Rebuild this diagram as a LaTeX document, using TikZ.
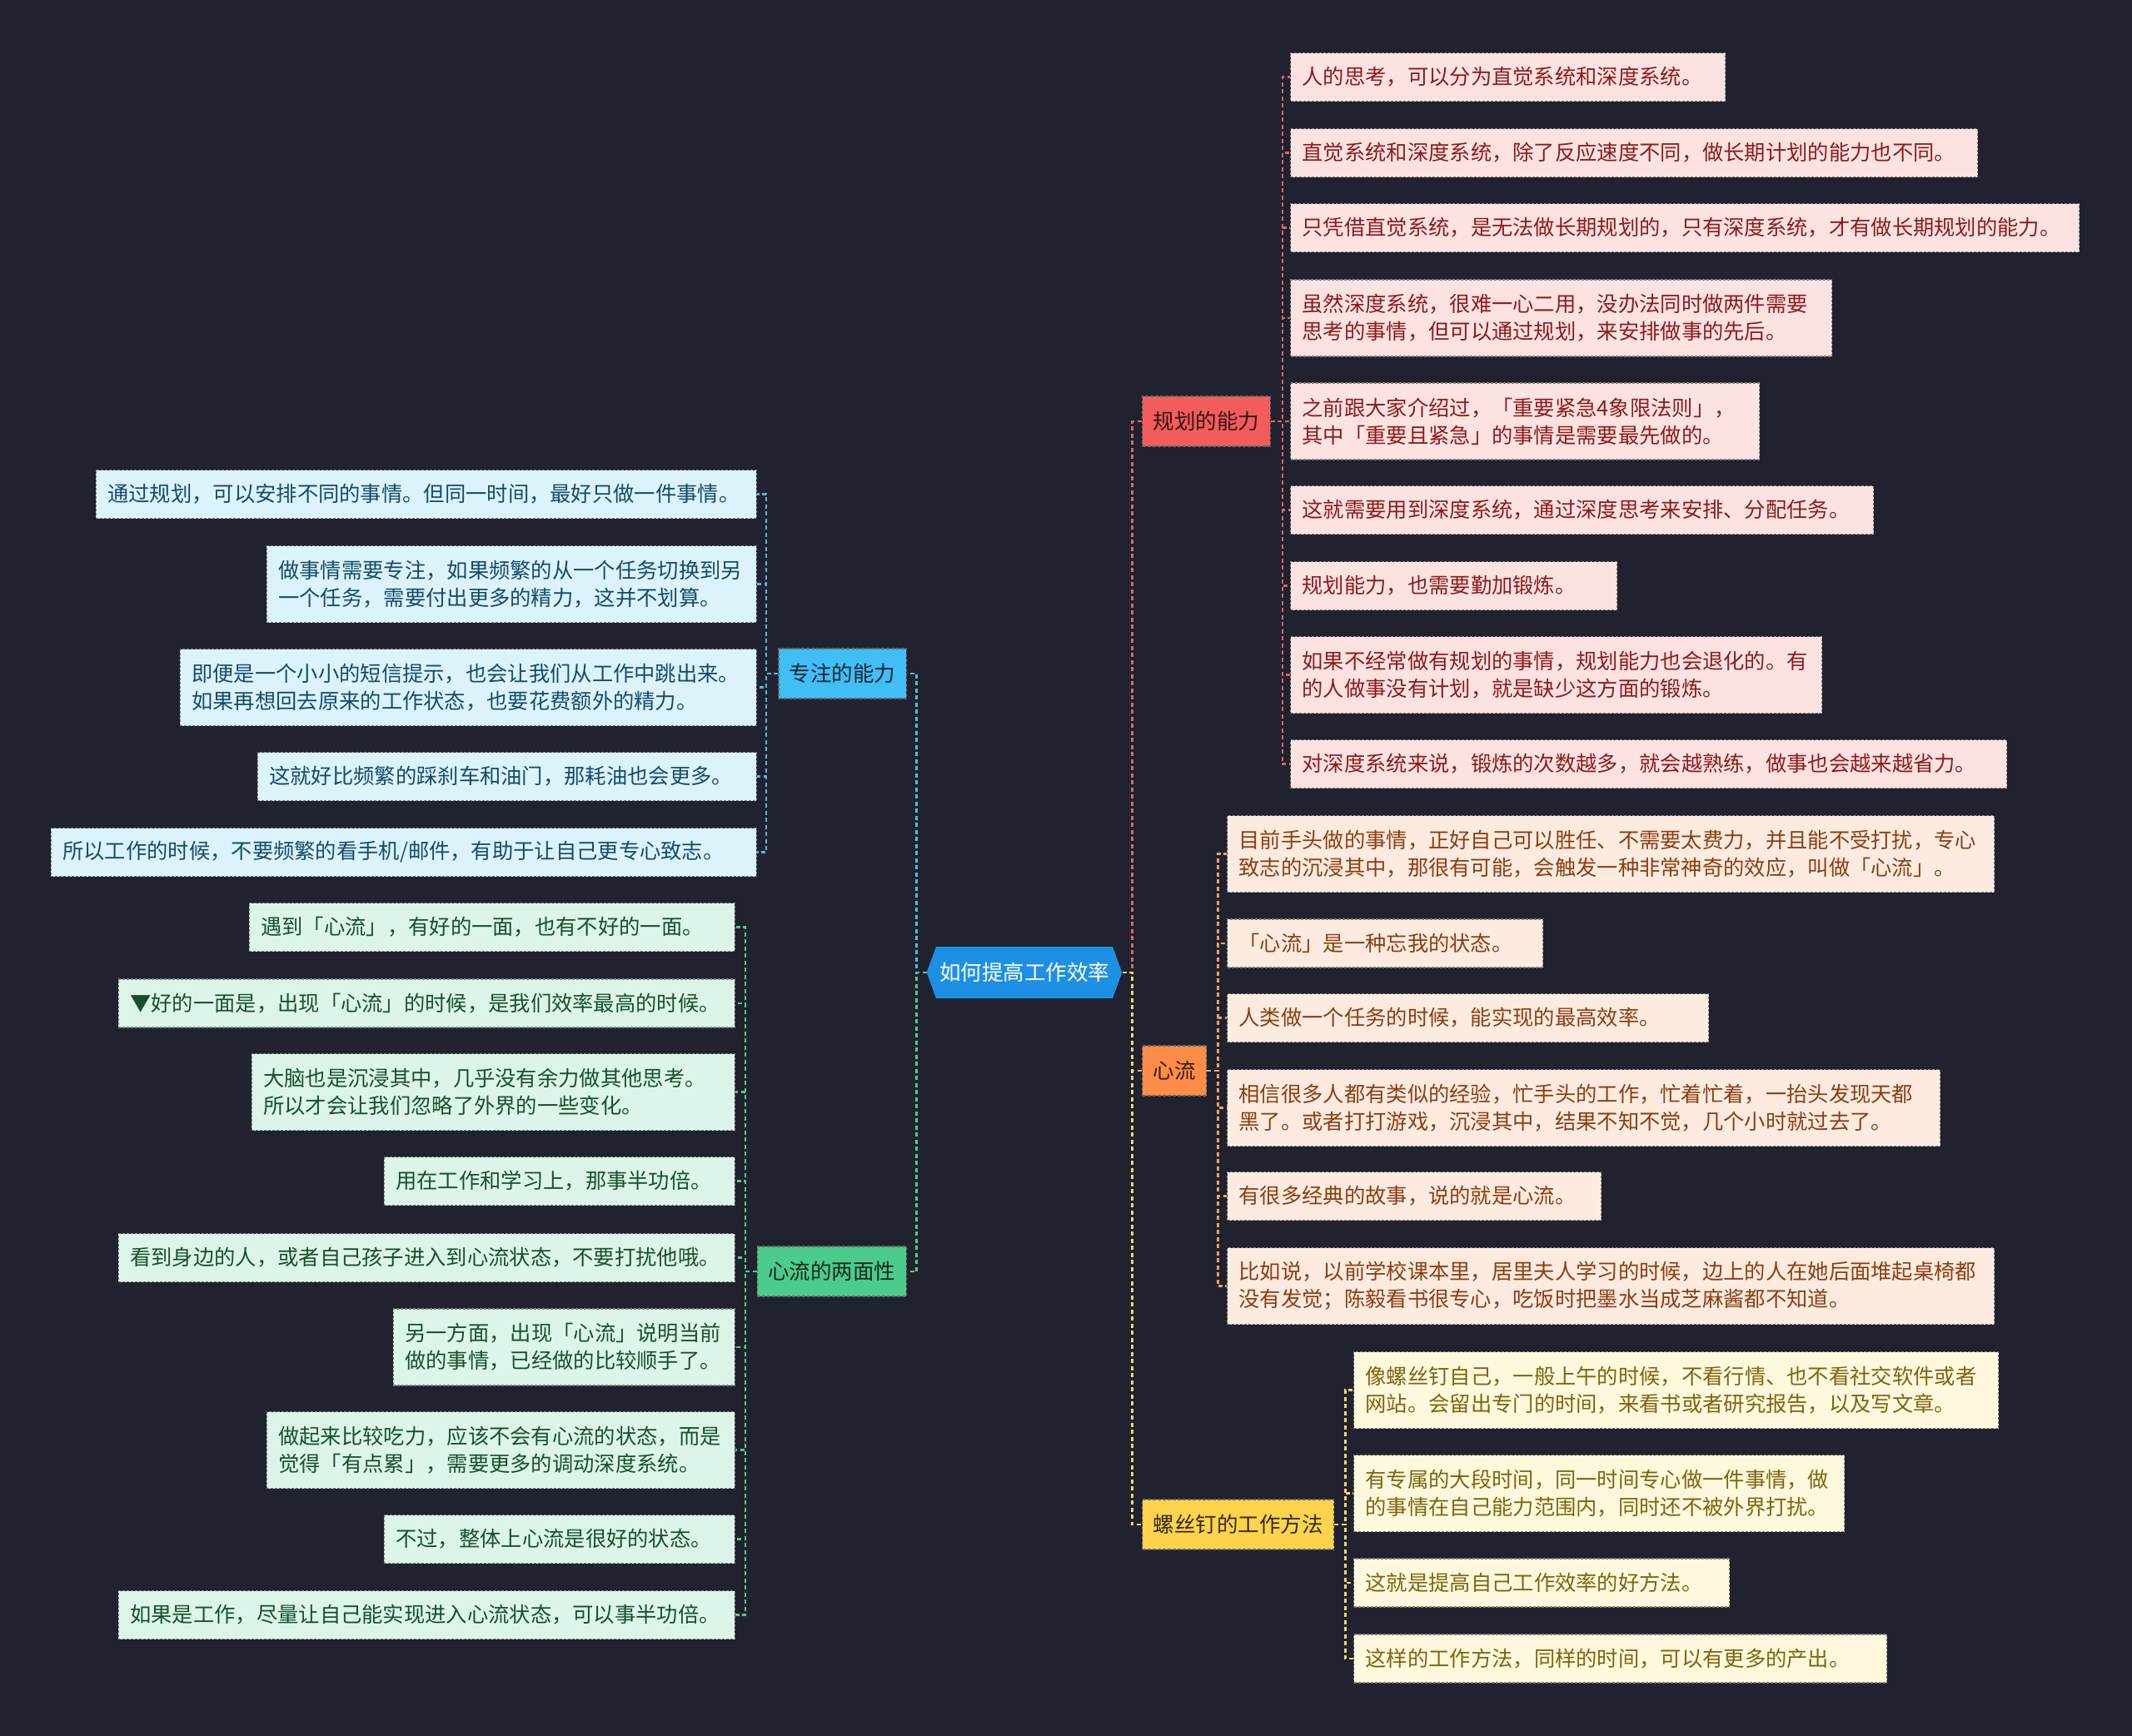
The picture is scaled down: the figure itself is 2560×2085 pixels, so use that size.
\documentclass[tikz,border=0pt]{standalone}
\usepackage{fontspec}
\setmainfont{Noto Sans CJK SC}
\usetikzlibrary{shapes.symbols}
\definecolor{bg}{HTML}{20232F}
\definecolor{rootc}{HTML}{1E90E4}
\definecolor{ghc}{HTML}{F25C5C}
\definecolor{xlc}{HTML}{FF8C48}
\definecolor{lsc}{HTML}{FFD34C}
\definecolor{zzc}{HTML}{40BEF5}
\definecolor{lmc}{HTML}{4BCB8C}
\definecolor{ghl}{HTML}{E06464}
\definecolor{xll}{HTML}{F0A062}
\definecolor{lsl}{HTML}{F2D466}
\definecolor{zzl}{HTML}{52B8E6}
\definecolor{lml}{HTML}{52C88E}
\definecolor{ghf}{HTML}{FDE2E2}
\definecolor{ght}{HTML}{8C1C1C}
\definecolor{xlf}{HTML}{FDEBDF}
\definecolor{xlt}{HTML}{8B3E13}
\definecolor{lsf}{HTML}{FEF8DC}
\definecolor{lst}{HTML}{7D6512}
\definecolor{zzf}{HTML}{DDF3FC}
\definecolor{zzt}{HTML}{134C6B}
\definecolor{lmf}{HTML}{DDF5E8}
\definecolor{lmt}{HTML}{17502F}
\begin{document}
\begin{tikzpicture}[x=1pt,y=-1pt,
  leafbase/.style={font=\fontsize{25.3}{33}\selectfont, inner xsep=14pt, inner ysep=0pt,
    minimum height=58pt, align=left, draw=black!50, dash pattern=on 3pt off 2pt, line width=1.3pt},
  two/.style={minimum height=92pt},
  tw/.style={text width=#1pt},
  branch/.style={font=\fontsize{25.5}{30}\selectfont, inner xsep=13pt, inner ysep=0pt,
    minimum height=60pt, draw=black!60, dash pattern=on 4pt off 2pt, line width=1.4pt},
  conn/.style={line width=2.2pt, dash pattern=on 5pt off 3.5pt},
  ghleaf/.style={leafbase, fill=ghf, text=ght, anchor=west},
  xlleaf/.style={leafbase, fill=xlf, text=xlt, anchor=west},
  lsleaf/.style={leafbase, fill=lsf, text=lst, anchor=west},
  zzleaf/.style={leafbase, fill=zzf, text=zzt, anchor=east},
  lmleaf/.style={leafbase, fill=lmf, text=lmt, anchor=east}]
\fill[bg] (0,0) rectangle (2560,2085);
\useasboundingbox (0,0) rectangle (2560,2085);

% root
\node[signal, signal to=east and west, signal pointer angle=140, fill=rootc, text=white,
  minimum height=62pt, minimum width=230pt, inner xsep=4pt, inner ysep=0pt,
  font=\fontsize{25.5}{30}\selectfont] (root) at (1230,1168) {如何提高工作效率};

% branches
\node[branch, fill=ghc, text=black!80!ghc, anchor=west] (gh) at (1371,506) {规划的能力};
\node[branch, fill=xlc, text=black!80!xlc, anchor=west] (xl) at (1371,1286) {心流};
\node[branch, fill=lsc, text=black!80!lsc, anchor=west] (ls) at (1371,1831) {螺丝钉的工作方法};
\node[branch, fill=zzc, text=black!80!zzc, anchor=east] (zz) at (1089,809) {专注的能力};
\node[branch, fill=lmc, text=black!80!lmc, anchor=east] (lm) at (1089,1527) {心流的两面性};

% 规划的能力 leaves
\node[ghleaf,tw=494] (gh1) at (1549,92.5) {人的思考，可以分为直觉系统和深度系统。};
\node[ghleaf,tw=797] (gh2) at (1549,183.5) {直觉系统和深度系统，除了反应速度不同，做长期计划的能力也不同。};
\node[ghleaf,tw=919] (gh3) at (1549,273.5) {只凭借直觉系统，是无法做长期规划的，只有深度系统，才有做长期规划的能力。};
\node[ghleaf,two,tw=622] (gh4) at (1549,382) {虽然深度系统，很难一心二用，没办法同时做两件需要\\思考的事情，但可以通过规划，来安排做事的先后。};
\node[ghleaf,two,tw=535] (gh5) at (1549,506) {之前跟大家介绍过，「重要紧急4象限法则」，\\其中「重要且紧急」的事情是需要最先做的。};
\node[ghleaf,tw=672] (gh6) at (1549,612.5) {这就需要用到深度系统，通过深度思考来安排、分配任务。};
\node[ghleaf,tw=364] (gh7) at (1549,703.5) {规划能力，也需要勤加锻炼。};
\node[ghleaf,two,tw=610] (gh8) at (1549,810.5) {如果不经常做有规划的事情，规划能力也会退化的。有\\的人做事没有计划，就是缺少这方面的锻炼。};
\node[ghleaf,tw=832] (gh9) at (1549,917.5) {对深度系统来说，锻炼的次数越多，就会越熟练，做事也会越来越省力。};

% 心流 leaves
\node[xlleaf,two,tw=893] (xl1) at (1473,1025.5) {目前手头做的事情，正好自己可以胜任、不需要太费力，并且能不受打扰，专心\\致志的沉浸其中，那很有可能，会触发一种非常神奇的效应，叫做「心流」。};
\node[xlleaf,tw=351] (xl2) at (1473,1133) {「心流」是一种忘我的状态。};
\node[xlleaf,tw=550] (xl3) at (1473,1222.5) {人类做一个任务的时候，能实现的最高效率。};
\node[xlleaf,two,tw=828] (xl4) at (1473,1330.5) {相信很多人都有类似的经验，忙手头的工作，忙着忙着，一抬头发现天都\\黑了。或者打打游戏，沉浸其中，结果不知不觉，几个小时就过去了。};
\node[xlleaf,tw=421] (xl5) at (1473,1436.5) {有很多经典的故事，说的就是心流。};
\node[xlleaf,two,tw=893] (xl6) at (1473,1544.5) {比如说，以前学校课本里，居里夫人学习的时候，边上的人在她后面堆起桌椅都\\没有发觉；陈毅看书很专心，吃饭时把墨水当成芝麻酱都不知道。};

% 螺丝钉 leaves
\node[lsleaf,two,tw=746] (ls1) at (1625,1669.5) {像螺丝钉自己，一般上午的时候，不看行情、也不看社交软件或者\\网站。会留出专门的时间，来看书或者研究报告，以及写文章。};
\node[lsleaf,two,tw=561] (ls2) at (1625,1793.5) {有专属的大段时间，同一时间专心做一件事情，做\\的事情在自己能力范围内，同时还不被外界打扰。};
\node[lsleaf,tw=423] (ls3) at (1625,1901) {这就是提高自己工作效率的好方法。};
\node[lsleaf,tw=612] (ls4) at (1625,1992) {这样的工作方法，同样的时间，可以有更多的产出。};

% 专注的能力 leaves
\node[zzleaf,tw=765] (zz1) at (909,593.5) {通过规划，可以安排不同的事情。但同一时间，最好只做一件事情。};
\node[zzleaf,two,tw=560] (zz2) at (909,701.5) {做事情需要专注，如果频繁的从一个任务切换到另\\一个任务，需要付出更多的精力，这并不划算。};
\node[zzleaf,two,tw=664] (zz3) at (909,825.5) {即便是一个小小的短信提示，也会让我们从工作中跳出来。\\如果再想回去原来的工作状态，也要花费额外的精力。};
\node[zzleaf,tw=571] (zz4) at (909,932.5) {这就好比频繁的踩刹车和油门，那耗油也会更多。};
\node[zzleaf,tw=819] (zz5) at (909,1023.5) {所以工作的时候，不要频繁的看手机/邮件，有助于让自己更专心致志。};

% 心流的两面性 leaves
\node[lmleaf,tw=555] (lm1) at (883,1113.5) {遇到「心流」，有好的一面，也有不好的一面。};
\node[lmleaf,tw=712] (lm2) at (883,1205) {▼好的一面是，出现「心流」的时候，是我们效率最高的时候。};
\node[lmleaf,two,tw=552] (lm3) at (883,1311.5) {大脑也是沉浸其中，几乎没有余力做其他思考。\\所以才会让我们忽略了外界的一些变化。};
\node[lmleaf,tw=393] (lm4) at (883,1418.5) {用在工作和学习上，那事半功倍。};
\node[lmleaf,tw=712] (lm5) at (883,1510.5) {看到身边的人，或者自己孩子进入到心流状态，不要打扰他哦。};
\node[lmleaf,two,tw=382] (lm6) at (883,1618) {另一方面，出现「心流」说明当前\\做的事情，已经做的比较顺手了。};
\node[lmleaf,two,tw=534] (lm7) at (883,1741.5) {做起来比较吃力，应该不会有心流的状态，而是\\觉得「有点累」，需要更多的调动深度系统。};
\node[lmleaf,tw=393] (lm8) at (883,1848.5) {不过，整体上心流是很好的状态。};
\node[lmleaf,tw=712] (lm9) at (883,1939.5) {如果是工作，尽量让自己能实现进入心流状态，可以事半功倍。};

% connectors root -> branches
\draw[conn, draw=ghl] (root.east) -- ++(12,0) |- (gh.west);
\draw[conn, draw=xll] (root.east) -- ++(12,0) |- (xl.west);
\draw[conn, draw=lsl] (root.east) -- ++(12,0) |- (ls.west);
\draw[conn, draw=zzl] (root.west) -- ++(-12,0) |- (zz.east);
\draw[conn, draw=lml] (root.west) -- ++(-12,0) |- (lm.east);

% connectors branch -> leaves
\foreach \i in {1,...,9} \draw[conn, draw=ghl] (gh.east) -- ++(14,0) |- (gh\i.west);
\foreach \i in {1,...,6} \draw[conn, draw=xll] (xl.east) -- ++(13,0) |- (xl\i.west);
\foreach \i in {1,...,4} \draw[conn, draw=lsl] (ls.east) -- ++(13,0) |- (ls\i.west);
\foreach \i in {1,...,5} \draw[conn, draw=zzl] (zz.west) -- ++(-14,0) |- (zz\i.east);
\foreach \i in {1,...,9} \draw[conn, draw=lml] (lm.west) -- ++(-14,0) |- (lm\i.east);
\end{tikzpicture}
\end{document}
